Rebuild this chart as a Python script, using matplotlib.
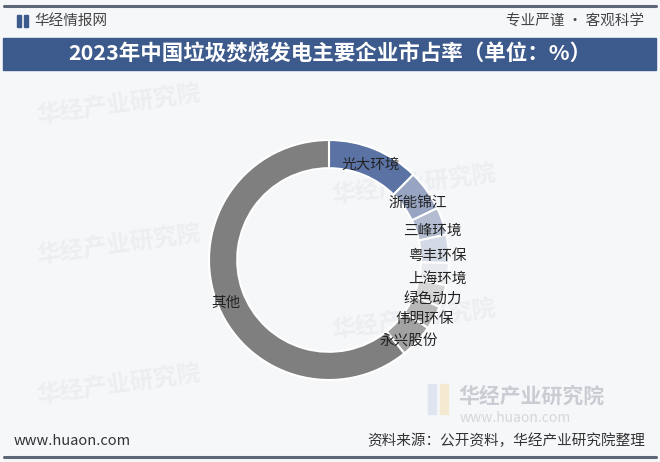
import matplotlib
matplotlib.use('Agg')
from matplotlib import pyplot as plt
from matplotlib.patches import Rectangle

plt.rcParams['font.family'] = ['Noto Sans CJK SC', 'DejaVu Sans']

# data: market share (%) of major waste-to-energy companies, 2023
companies = ['光大环境', '浙能锦江', '三峰环境', '粤丰环保', '上海环境',
             '绿色动力', '伟明环保', '永兴股份', '其他']
shares = [12.4, 5.5, 3.7, 3.8, 3.0, 3.0, 3.2, 4.6, 60.8]
colors = ['#5b72a4', '#97a5c2', '#b3bcd0', '#d3d9e5', '#e9eaee',
          '#d6d6d6', '#b8b8b8', '#a2a2a2', '#7f7f7f']

W, H = 660, 462
fig = plt.figure(figsize=(6.6, 4.62), dpi=100)
fig.patch.set_facecolor('#f6f7f9')

# background layer for header / footer decorations
bg = fig.add_axes([0, 0, 1, 1])
bg.set_xlim(0, W)
bg.set_ylim(H, 0)
bg.axis('off')

# top and bottom rules
bg.plot([4, 656], [6, 6], color='#5d6677', lw=2.2, solid_capstyle='round')
bg.plot([4, 656], [457, 457], color='#5d6677', lw=2.2, solid_capstyle='round')

# header
bg.add_patch(Rectangle((17, 15), 4, 12, color='#3d5a8c'))
bg.add_patch(Rectangle((24, 15), 4, 12, color='#3d5a8c'))
bg.text(34, 21, '华经情报网', fontsize=10.5, color='#444444', va='center', ha='left')
bg.text(644, 21, '专业严谨 • 客观科学', fontsize=10.5, color='#444444', va='center', ha='right')

# title bar
bg.add_patch(Rectangle((3, 38), 653, 32, color='#3d5a8c'))
bg.text(330, 54, '2023年中国垃圾焚烧发电主要企业市占率（单位：%）', fontsize=15.5,
        fontweight='bold', color='white', va='center', ha='center')

# faint watermarks
for (x, y) in [(35, 105), (35, 245), (35, 385), (330, 185), (330, 320)]:
    bg.text(x, y, '华经产业研究院', fontsize=17, color='#eceef2', va='center', ha='left',
            fontweight='bold', rotation=8, zorder=0)

# bottom-right logo watermark
bg.add_patch(Rectangle((428, 384), 8, 30, color='#dfe6f2'))
bg.add_patch(Rectangle((440, 384), 8, 30, color='#f4ead2'))
bg.text(458, 396, '华经产业研究院', fontsize=15, color='#c9ccd2', va='center', ha='left',
        fontweight='bold')
bg.text(460, 418, 'www.huaon.com', fontsize=10, color='#d4d7dc', va='center', ha='left')

# footer
bg.text(14, 441, 'www.huaon.com', fontsize=10.5, color='#333333', va='center', ha='left')
bg.text(645, 441, '资料来源：公开资料，华经产业研究院整理', fontsize=10.5, color='#333333',
        va='center', ha='right')

# donut chart
cx, cy, r = 329, 260, 120
ax = fig.add_axes([(cx - r) / W, (H - cy - r) / H, 2 * r / W, 2 * r / H])
ax.set_facecolor('none')
wedges, texts = ax.pie(shares, colors=colors, startangle=90, counterclock=False,
                       labels=companies, labeldistance=0.91,
                       wedgeprops=dict(width=0.235, edgecolor='white', linewidth=1.5),
                       textprops=dict(fontsize=10.5, color='#222222', va='center'))
# labels sit a little lower than the slice centre, as in the original
for t in texts:
    t.set_ha('center')
    x, y = t.get_position()
    t.set_position((x, y - 0.05))
ax.set_xlim(-1, 1)
ax.set_ylim(-1, 1)

fig.savefig('out.png', dpi=100, facecolor=fig.get_facecolor())
